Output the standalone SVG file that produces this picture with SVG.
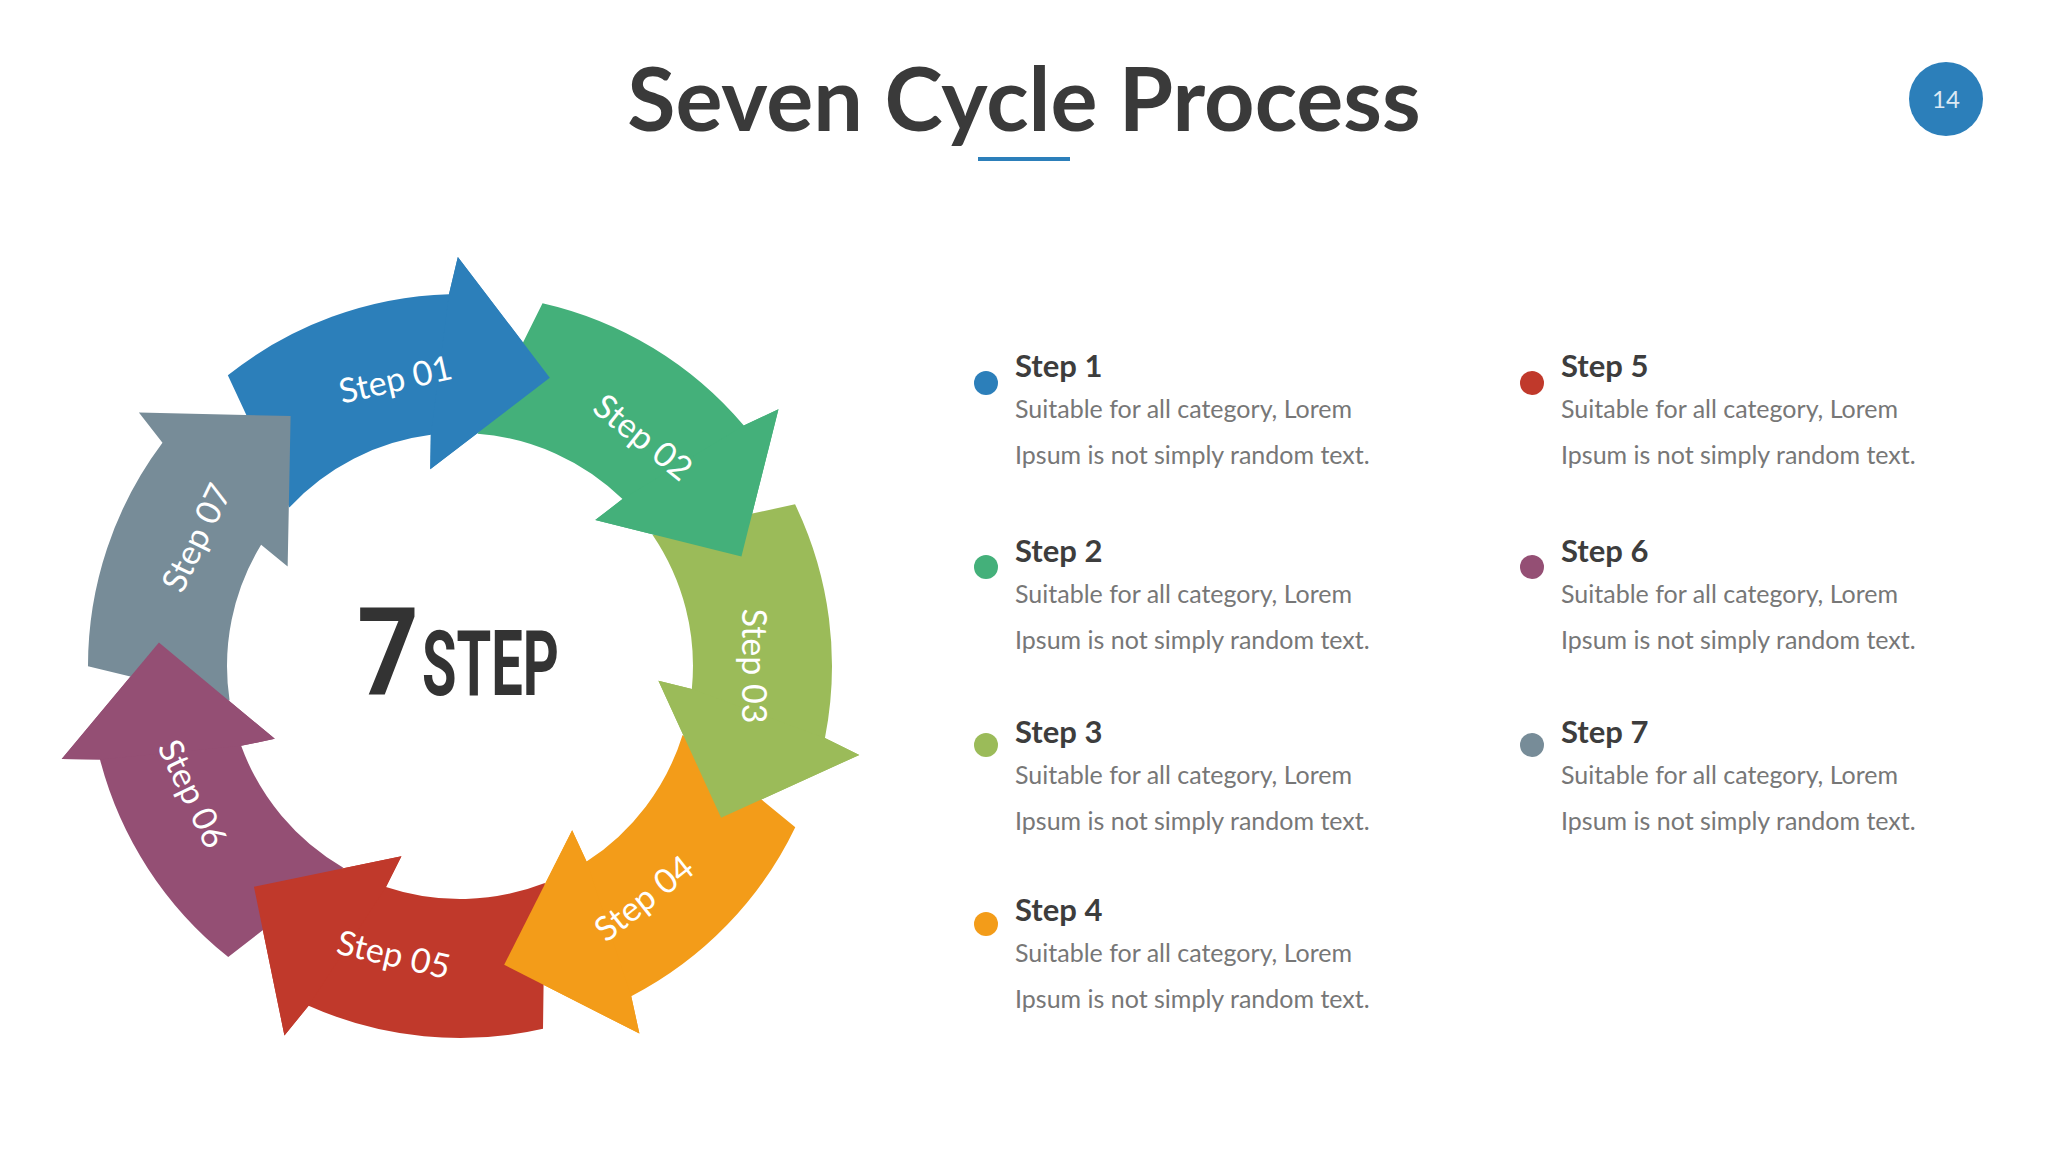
<svg xmlns="http://www.w3.org/2000/svg" xmlns:xlink="http://www.w3.org/1999/xlink" width="2048" height="1152" viewBox="0 0 2048 1152">
<style>
.lbl{font-family:Lato,"Open Sans",sans-serif;font-size:34px;fill:#fff;text-anchor:middle;dominant-baseline:central}
.h{font-family:Lato,"Open Sans",sans-serif;font-size:31px;font-weight:bold;fill:#3d3d3d}
.d{font-family:Lato,"Open Sans",sans-serif;font-size:25px;fill:#777}
</style>
<defs>
<path id="arrow" d="M208.5,-308.1 A372,372 0 0 1 351.7,-121.1 L389.9,-123.7 L302,0 L179,-86.9 L212,-96.6 A233,233 0 0 0 100.7,-210.1 Z"/>
<path id="head" d="M351.7,-121.1 L389.9,-123.7 L302,0 L179,-86.9 L212,-96.6 Z"/>
</defs>
<rect width="2048" height="1152" fill="#fff"/>
<g id="title">
<text x="1024" y="131" text-anchor="middle" font-family="Lato,'Open Sans',sans-serif" font-weight="bold" font-size="88" fill="#3a3a3a">Seven Cycle Process</text>
<line x1="978" y1="159" x2="1070" y2="159" stroke="#2C7FBA" stroke-width="4"/>
</g>
<g id="badge"><circle cx="1946" cy="99" r="37" fill="#2C7FBA"/><text x="1946" y="108" text-anchor="middle" font-family="Lato,sans-serif" font-size="24" fill="#dce9f4">14</text></g>
<g id="cycle" transform="translate(460,666)">
<use xlink:href="#arrow" transform="rotate(-72.7)" fill="#2C7FBA"/>
<use xlink:href="#arrow" transform="rotate(-21.27)" fill="#44B07A"/>
<use xlink:href="#arrow" transform="rotate(30.16)" fill="#9BBB59"/>
<use xlink:href="#arrow" transform="rotate(81.59)" fill="#F39C19"/>
<use xlink:href="#arrow" transform="rotate(133.02)" fill="#C0392B"/>
<use xlink:href="#arrow" transform="rotate(184.45)" fill="#944F74"/>
<use xlink:href="#arrow" transform="rotate(235.88)" fill="#778C98"/>
<use xlink:href="#head" transform="rotate(-72.7)" fill="#2C7FBA"/>
<use xlink:href="#head" transform="rotate(-21.27)" fill="#44B07A"/>
<use xlink:href="#head" transform="rotate(30.16)" fill="#9BBB59"/>
<use xlink:href="#head" transform="rotate(81.59)" fill="#F39C19"/>
<use xlink:href="#head" transform="rotate(133.02)" fill="#C0392B"/>
<use xlink:href="#head" transform="rotate(184.45)" fill="#944F74"/>
</g>
<g id="labels">
<text class="lbl" transform="translate(395,378) rotate(-12.7)">Step 01</text>
<text class="lbl" transform="translate(644,436) rotate(38.7)">Step 02</text>
<text class="lbl" transform="translate(755,666) rotate(90)">Step 03</text>
<text class="lbl" transform="translate(643,897) rotate(-38.4)">Step 04</text>
<text class="lbl" transform="translate(394,953) rotate(13)">Step 05</text>
<text class="lbl" transform="translate(194,793) rotate(64.4)">Step 06</text>
<text class="lbl" transform="translate(195,537) rotate(-64.1)">Step 07</text>
</g>
<g id="center" font-family="Roboto,'Liberation Sans',sans-serif" font-weight="bold" fill="#333">
<text x="357" y="695" font-size="122" textLength="62" lengthAdjust="spacingAndGlyphs">7</text>
<text x="422" y="695" font-size="90" textLength="137" lengthAdjust="spacingAndGlyphs">STEP</text>
</g>
<g id="step1"><circle cx="986" cy="383" r="12" fill="#2C7FBA"/><text class="h" x="1015" y="377">Step 1</text><text class="d" x="1015" y="418">Suitable for all category, Lorem</text><text class="d" x="1015" y="464">Ipsum is not simply random text.</text></g>
<g id="step2"><circle cx="986" cy="567" r="12" fill="#44B07A"/><text class="h" x="1015" y="562">Step 2</text><text class="d" x="1015" y="603">Suitable for all category, Lorem</text><text class="d" x="1015" y="649">Ipsum is not simply random text.</text></g>
<g id="step3"><circle cx="986" cy="745" r="12" fill="#9BBB59"/><text class="h" x="1015" y="743">Step 3</text><text class="d" x="1015" y="784">Suitable for all category, Lorem</text><text class="d" x="1015" y="830">Ipsum is not simply random text.</text></g>
<g id="step4"><circle cx="986" cy="924" r="12" fill="#F39C19"/><text class="h" x="1015" y="921">Step 4</text><text class="d" x="1015" y="962">Suitable for all category, Lorem</text><text class="d" x="1015" y="1008">Ipsum is not simply random text.</text></g>
<g id="step5"><circle cx="1532" cy="383" r="12" fill="#C0392B"/><text class="h" x="1561" y="377">Step 5</text><text class="d" x="1561" y="418">Suitable for all category, Lorem</text><text class="d" x="1561" y="464">Ipsum is not simply random text.</text></g>
<g id="step6"><circle cx="1532" cy="567" r="12" fill="#944F74"/><text class="h" x="1561" y="562">Step 6</text><text class="d" x="1561" y="603">Suitable for all category, Lorem</text><text class="d" x="1561" y="649">Ipsum is not simply random text.</text></g>
<g id="step7"><circle cx="1532" cy="745" r="12" fill="#778C98"/><text class="h" x="1561" y="743">Step 7</text><text class="d" x="1561" y="784">Suitable for all category, Lorem</text><text class="d" x="1561" y="830">Ipsum is not simply random text.</text></g>
</svg>
